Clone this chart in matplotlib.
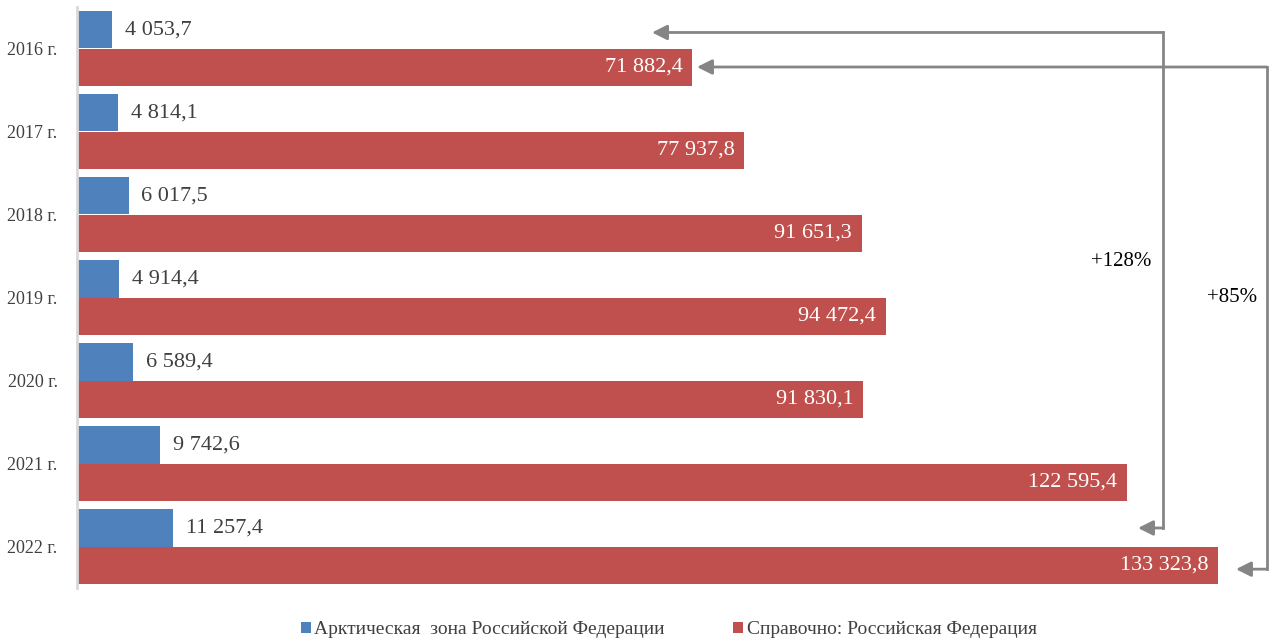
import matplotlib.pyplot as plt
import numpy as np

# === Data ===
years = ["2016 г.", "2017 г.", "2018 г.", "2019 г.", "2020 г.", "2021 г.", "2022 г."]
arctic = [4053.7, 4814.1, 6017.5, 4914.4, 6589.4, 9742.6, 11257.4]
russia = [71882.4, 77937.8, 91651.3, 94472.4, 91830.1, 122595.4, 133323.8]
growth_labels = ["+128%", "+85%"]

BLUE = "#4F81BD"
RED = "#C0504D"
GRAY = "#858585"

plt.rcParams["font.family"] = ["Liberation Serif", "DejaVu Serif"]


def fmt(v):
    s = f"{v:,.1f}".replace(",", " ").replace(".", ",")
    return s


fig = plt.figure(figsize=(12.69, 6.41), dpi=100)
ax = fig.add_axes([77 / 1269, 53 / 641, 1192 / 1269, 581 / 641])

y = np.arange(len(years))
h = 0.446

ax.barh(y - h / 2, arctic, height=h, color=BLUE, label="Арктическая  зона Российской Федерации")
ax.barh(y + h / 2, russia, height=h, color=RED, label="Справочно: Российская Федерация")

# value labels
for i, (a, r) in enumerate(zip(arctic, russia)):
    ax.text(a + 1500, i - h / 2, fmt(a), va="center", ha="left", fontsize=16, color="#404040")
    ax.text(r - 1100, i + h / 2, fmt(r), va="center", ha="right", fontsize=16, color="white")

ax.set_xlim(0, 139240)
ax.set_ylim(len(years) - 0.5, -0.5)
ax.set_yticks(y)
ax.set_yticklabels(years, fontsize=13, color="#404040")
ax.set_xticks([])
ax.tick_params(axis="y", length=0, pad=14)
for s in ["top", "right", "bottom"]:
    ax.spines[s].set_visible(False)
ax.spines["left"].set_color("#D9D9D9")
ax.spines["left"].set_linewidth(2)

# growth connectors between 2016 and 2022
def connector(xv, y_top, tip_top, y_bot, tip_bot, label, lx, ly):
    ax.plot([xv, xv], [y_top, y_bot], color=GRAY, lw=2, clip_on=False)
    props = dict(arrowstyle="-|>,head_length=0.9,head_width=0.45", color=GRAY, lw=2,
                 shrinkA=0, shrinkB=0)
    ax.annotate("", xy=(tip_top, y_top), xytext=(xv, y_top), arrowprops=props,
                annotation_clip=False)
    ax.annotate("", xy=(tip_bot, y_bot), xytext=(xv, y_bot), arrowprops=props,
                annotation_clip=False)
    ax.text(lx, ly, label, ha="center", va="center", fontsize=15)


connector(126855, -h / 2 + 0.03, 67165, 6 - h / 2, 123935, growth_labels[0], 121950, 2.57)
connector(139000, h / 2, 72420, 6 + h / 2 + 0.05, 135380, growth_labels[1], 134910, 3.0)

fig.legend(loc="center", bbox_to_anchor=(0.527, 1 - 630 / 641), ncol=2, frameon=False,
           fontsize=14, handlelength=0.5, handleheight=0.5, handletextpad=0.2,
           columnspacing=3.5, labelcolor="#404040")

plt.savefig("out.png", dpi=100)
